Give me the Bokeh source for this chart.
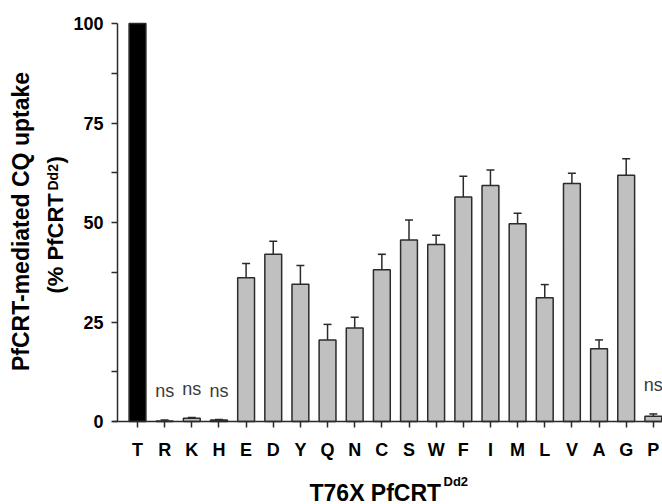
import math
from bokeh.plotting import figure
from bokeh.models import (Range1d, FixedTicker, Label, Whisker, TeeHead,
                          ColumnDataSource)
from bokeh.embed import file_html
from bokeh.resources import INLINE

# ---- data ----
categories = ["T", "R", "K", "H", "E", "D", "Y", "Q", "N", "C",
              "S", "W", "F", "I", "M", "L", "V", "A", "G", "P"]
uptake = [100, 0.1, 0.8, 0.4, 36.1, 42.0, 34.5, 20.5, 23.5, 38.1,
          45.6, 44.5, 56.4, 59.3, 49.7, 31.1, 59.8, 18.3, 61.9, 1.3]
sem = [0, 0.3, 0.2, 0.1, 3.6, 3.3, 4.7, 3.9, 2.7, 3.9,
       5.0, 2.3, 5.2, 3.9, 2.6, 3.3, 2.6, 2.2, 4.1, 0.6]
not_significant = ["R", "K", "H", "P"]
y_ticks = [0, 25, 50, 75, 100]

FONT = "Liberation Sans"
DARK = "#2b2b2b"

# ---- layout: the frame covers the whole canvas, axes are pinned ----
W, H = 662, 504
AX_L, AX_T, AX_B = 117, 23, 421          # canvas px of the axes box
STEP = 27.15                              # px per category
PX_PER_Y = (AX_B - AX_T) / 100.0
X_AX = -20.0 / STEP                       # data x of the y axis

def px_x(px):
    return X_AX + (px - AX_L) / STEP
def px_y(py):
    return (AX_B - py) / PX_PER_Y

p = figure(width=W, height=H, output_backend="svg", toolbar_location=None,
           x_range=Range1d(px_x(0), px_x(W)),
           y_range=Range1d(px_y(H), px_y(0)),
           min_border=0)
p.outline_line_color = None
p.xgrid.grid_line_color = None
p.ygrid.grid_line_color = None
p.background_fill_color = "white"

xs = list(range(len(categories)))
fills = ["black" if i == 0 else "#c0c0c0" for i in xs]
src = ColumnDataSource(dict(x=xs, top=uptake, fill=fills))
p.vbar(x="x", top="top", width=0.62, bottom=0, source=src,
       fill_color="fill", line_color=DARK, line_width=1.5)

wx = [i for i in xs if sem[i] > 0]
wsrc = ColumnDataSource(dict(x=wx, lower=[uptake[i] for i in wx],
                             upper=[uptake[i] + sem[i] for i in wx]))
w = Whisker(base="x", lower="lower", upper="upper", source=wsrc,
            dimension="height", line_color=DARK, line_width=1.5,
            lower_head=None,
            upper_head=TeeHead(size=8, line_color=DARK, line_width=1.5))
p.add_layout(w)

for c in not_significant:
    i = categories.index(c)
    p.add_layout(Label(x=i, y=uptake[i] + sem[i] + 7.2, text="ns",
                       text_align="center", text_baseline="middle",
                       text_font=FONT, text_font_size="18px",
                       text_color="#3a3a3a"))

# axes (library axes, pinned inside the frame)
for ax in (p.xaxis, p.yaxis):
    ax.axis_line_color = DARK
    ax.axis_line_width = 1.5
    ax.major_tick_line_color = DARK
    ax.major_tick_line_width = 1.5
    ax.major_tick_in = 0
    ax.major_tick_out = 6
    ax.major_label_text_font = FONT
    ax.major_label_text_font_style = "bold"
    ax.major_label_text_color = "black"

p.xaxis.fixed_location = 0
p.xaxis.bounds = (px_x(112), px_x(W))
p.xaxis.ticker = FixedTicker(ticks=xs)
p.xaxis.major_label_overrides = {i: c for i, c in enumerate(categories)}
p.xaxis.minor_tick_line_color = None
p.xaxis.major_label_text_font_size = "18px"
p.xaxis.major_label_standoff = 12

p.yaxis.fixed_location = X_AX
p.yaxis.bounds = (0, 100)
p.yaxis.ticker = FixedTicker(ticks=y_ticks,
                             minor_ticks=[12.5, 37.5, 62.5, 87.5])
p.yaxis.minor_tick_line_color = DARK
p.yaxis.minor_tick_line_width = 1.5
p.yaxis.minor_tick_in = 0
p.yaxis.minor_tick_out = 6
p.yaxis.major_label_text_font_size = "18px"
p.yaxis.major_label_standoff = 8

def title_label(px, py, text, size, angle=0.0, align="left"):
    p.add_layout(Label(x=px_x(px), y=px_y(py), text=text, angle=angle,
                       text_align=align, text_baseline="middle",
                       text_font=FONT, text_font_style="bold",
                       text_font_size=size, text_color="black"))

# y title (two lines, rotated)
A = math.pi / 2
title_label(20, 221, "PfCRT-mediated CQ uptake", "23px", A, "center")
title_label(55, 293, "(% PfCRT", "22px", A)
title_label(52, 190, "Dd2", "14px", A)
title_label(55, 163, ")", "22px", A)

# x title
title_label(309, 492, "T76X PfCRT", "23px")
title_label(443, 481, "Dd2", "13px")

open("out.html", "w").write(file_html(p, INLINE))
